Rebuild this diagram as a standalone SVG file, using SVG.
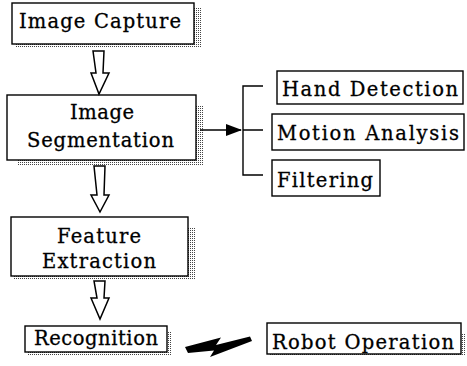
<svg xmlns="http://www.w3.org/2000/svg" width="467" height="366" viewBox="0 0 467 366">
<defs>
<pattern id="dots" width="2" height="2" patternUnits="userSpaceOnUse">
<rect x="0" y="0" width="1" height="1" fill="#444"/>
</pattern>
<marker id="ah" markerWidth="16" markerHeight="12" refX="15" refY="6" orient="auto" markerUnits="userSpaceOnUse">
<path d="M0,0 L16,6 L0,12 Z" fill="#000"/>
</marker>
</defs>
<style>
.box{fill:#fff;stroke:#000;stroke-width:1.4}
.sh{fill:url(#dots)}
.t{font-family:"DejaVu Serif","Liberation Serif",serif;font-size:19.5px;fill:#000;stroke:#000;stroke-width:0.3}
.ln{fill:none;stroke:#000;stroke-width:1.4}
.hol{fill:#fff;stroke:#000;stroke-width:1.5;stroke-linejoin:miter}
</style>
<rect width="467" height="366" fill="#fff"/>

<g id="image-capture">
<rect class="sh" x="194" y="8" width="7" height="40"/>
<rect class="sh" x="15" y="44" width="186" height="4"/>
<rect class="box" x="12" y="3" width="182" height="41"/>
<text class="t" x="19" y="28" textLength="162" lengthAdjust="spacing">Image Capture</text>
</g>

<g id="image-segmentation">
<rect class="sh" x="196" y="105" width="7" height="60"/>
<rect class="sh" x="17" y="160" width="186" height="5"/>
<rect class="box" x="7" y="95" width="189" height="65"/>
<text class="t" x="70" y="119" textLength="64" lengthAdjust="spacing">Image</text>
<text class="t" x="27" y="147" textLength="147" lengthAdjust="spacing">Segmentation</text>
</g>

<g id="hand-detection">
<rect class="box" x="277" y="71" width="186" height="33"/>
<text class="t" x="282" y="96" textLength="176" lengthAdjust="spacing">Hand Detection</text>
</g>

<g id="motion-analysis">
<rect class="box" x="272" y="114" width="192" height="36"/>
<text class="t" x="277" y="140" textLength="182" lengthAdjust="spacing">Motion Analysis</text>
</g>

<g id="filtering">
<rect class="box" x="272" y="160" width="108" height="36"/>
<text class="t" x="277" y="187" textLength="96" lengthAdjust="spacing">Filtering</text>
</g>

<g id="feature-extraction">
<rect class="sh" x="188" y="227" width="7" height="52"/>
<rect class="sh" x="13" y="276" width="182" height="3"/>
<rect class="box" x="11" y="217" width="177" height="59"/>
<text class="t" x="57" y="243" textLength="84" lengthAdjust="spacing">Feature</text>
<text class="t" x="42" y="268" textLength="114" lengthAdjust="spacing">Extraction</text>
</g>

<g id="recognition">
<rect class="sh" x="167" y="332" width="5" height="23"/>
<rect class="sh" x="28" y="352" width="144" height="3"/>
<rect class="box" x="25" y="326" width="142" height="26"/>
<text class="t" x="34" y="345" textLength="124" lengthAdjust="spacing">Recognition</text>
</g>

<g id="robot-operation">
<rect class="sh" x="461" y="333" width="5" height="23"/>
<rect class="sh" x="269" y="354" width="197" height="2"/>
<rect class="box" x="267" y="323" width="194" height="31"/>
<text class="t" x="272" y="349" textLength="182" lengthAdjust="spacing">Robot Operation</text>
</g>

<g id="connectors">
<polygon class="hol" points="93,51 104,51 103,73 109,73 99,94 91,73 96,73"/>
<polygon class="hol" points="94,166 105,166 104,195 109,195 100,212 91,195 97,195"/>
<polygon class="hol" points="94,281 105,281 104,298 109,298 100,319 91,298 97,298"/>
<line class="ln" x1="200" y1="130" x2="241" y2="130" marker-end="url(#ah)"/>
<path class="ln" d="M263,86 H243 V175 H263 M243,130 H263"/>
<polygon points="185,347 221,337.5 216,345 250,336.5 252,341 210,357 214,350.5 188,353" fill="#000"/>
</g>
</svg>
